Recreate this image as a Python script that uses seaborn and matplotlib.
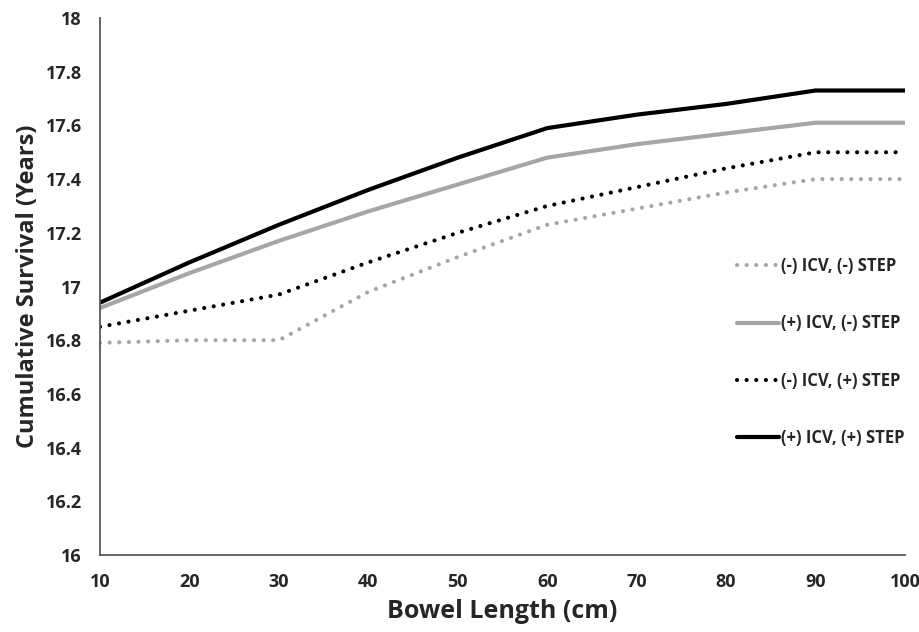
import pandas as pd
import numpy as np
import matplotlib.pyplot as plt
import seaborn as sns

# values
bowel_length = [10, 20, 30, 40, 50, 60, 70, 80, 90, 100]
neg_icv_neg_step = [16.79, 16.80, 16.80, 16.98, 17.11, 17.23, 17.29, 17.35, 17.40, 17.40]
pos_icv_neg_step = [16.92, 17.05, 17.17, 17.28, 17.38, 17.48, 17.53, 17.57, 17.61, 17.61]
neg_icv_pos_step = [16.85, 16.91, 16.97, 17.09, 17.20, 17.30, 17.37, 17.44, 17.50, 17.50]
pos_icv_pos_step = [16.94, 17.09, 17.23, 17.36, 17.48, 17.59, 17.64, 17.68, 17.73, 17.73]

series_names = ["(-) ICV, (-) STEP", "(+) ICV, (-) STEP", "(-) ICV, (+) STEP", "(+) ICV, (+) STEP"]
series_values = [neg_icv_neg_step, pos_icv_neg_step, neg_icv_pos_step, pos_icv_pos_step]

df = pd.DataFrame({
    "Bowel Length": np.tile(bowel_length, len(series_names)),
    "Survival": np.concatenate(series_values),
    "Group": np.repeat(series_names, len(bowel_length)),
})

sns.set_style("white")
plt.rcParams["font.family"] = ["Open Sans", "DejaVu Sans"]
plt.rcParams["font.weight"] = "bold"

fig = plt.figure(figsize=(9.2, 6.32), dpi=100)
ax = fig.add_axes([0.1087, 0.1218, 0.875, 0.8497])

palette = {series_names[0]: "#a6a6a6", series_names[1]: "#a6a6a6",
           series_names[2]: "black", series_names[3]: "black"}
dashes = {series_names[0]: (0.01, 2.3), series_names[1]: "",
          series_names[2]: (0.01, 2.3), series_names[3]: ""}

sns.lineplot(data=df, x="Bowel Length", y="Survival", hue="Group", style="Group",
             palette=palette, dashes=dashes, hue_order=series_names, style_order=series_names,
             linewidth=3, dash_capstyle="round", solid_joinstyle="round", ax=ax, legend=True)

ax.set_xlim(10, 100)
ax.set_ylim(16, 18)
ax.set_xticks(bowel_length)
yt = np.round(np.arange(16, 18.01, 0.2), 1)
ax.set_yticks(yt)
ax.set_yticklabels([f"{v:g}" for v in yt])
ax.tick_params(axis="both", length=0, labelsize=13, pad=13)
for lab in ax.get_xticklabels() + ax.get_yticklabels():
    lab.set_fontweight("bold")

sns.despine(ax=ax)
for s in ["left", "bottom"]:
    ax.spines[s].set_color("#595959")
    ax.spines[s].set_linewidth(1.3)

ax.set_xlabel("Bowel Length (cm)", fontsize=18, fontweight="bold", labelpad=6)
ax.set_ylabel("Cumulative Survival (Years)", fontsize=17, fontweight="bold", labelpad=4)

handles, labels = ax.get_legend_handles_labels()
leg = ax.legend(handles, labels, loc="center left", bbox_to_anchor=(0.773, 0.378),
                frameon=False, fontsize=12, handlelength=2.5, handletextpad=0.1,
                labelspacing=2.35)
for t in leg.get_texts():
    t.set_fontweight("bold")

fig.savefig("out.png", dpi=100)
